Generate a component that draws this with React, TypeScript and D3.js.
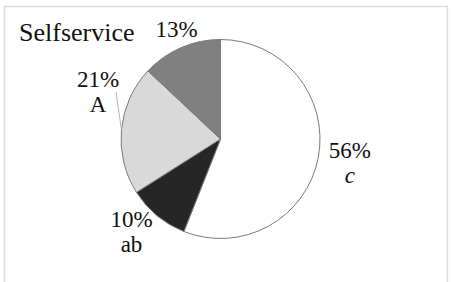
import React, { useEffect, useRef } from 'react'
import * as d3 from 'd3'

// data, clockwise from 12 o'clock
const shares = [56, 10, 21, 13]
const letters = ['c', 'ab', 'A', '']
const fills = ['#ffffff', '#262626', '#d9d9d9', '#808080']
const italicLetter = [true, false, false, false]
const title = 'Selfservice'

// label nudges relative to the outer label arc (layout only)
const labelNudge = [
	{ dx: 6, dy: -4.5, leader: false },
	{ dx: -9, dy: -9, leader: false },
	{ dx: 2.5, dy: -40, leader: true },
	{ dx: 6, dy: 13, leader: false },
]

const App = () => {
	const chartRef = useRef<SVGSVGElement | null>(null)

	useEffect(() => {
		if (!chartRef.current) return
		const svg = d3.select(chartRef.current)
		svg.selectAll('*').remove()

		const width = 451
		const height = 282
		const cx = 220.5
		const cy = 139
		const radius = 99.5
		const font = "Tinos, 'Liberation Serif', 'Times New Roman', serif"

		svg.attr('width', width).attr('height', height)

		// light frame around the chart area
		svg
			.append('rect')
			.attr('x', 4.5)
			.attr('y', 6.5)
			.attr('width', 443)
			.attr('height', 290)
			.attr('fill', 'white')
			.attr('stroke', '#dcdcdc')
			.attr('stroke-width', 1.5)

		svg
			.append('text')
			.attr('x', 19)
			.attr('y', 41)
			.attr('fill', '#111')
			.attr('font-size', 26)
			.text(title)

		const arcs = d3
			.pie<number>()
			.sort(null)
			.value((d) => d)(shares)

		const arc = d3.arc<d3.PieArcDatum<number>>().innerRadius(0).outerRadius(radius)
		const labelArc = d3
			.arc<d3.PieArcDatum<number>>()
			.innerRadius(radius + 26)
			.outerRadius(radius + 26)
		const edgeArc = d3.arc<d3.PieArcDatum<number>>().innerRadius(radius).outerRadius(radius)

		const g = svg.append('g').attr('transform', `translate(${cx}, ${cy})`)

		g.selectAll('path.slice')
			.data(arcs)
			.enter()
			.append('path')
			.attr('class', 'slice')
			.attr('d', arc)
			.attr('fill', (d, i) => fills[i])
			.attr('stroke', '#7a7a7a')
			.attr('stroke-width', 1)
			.attr('stroke-linejoin', 'round')

		arcs.forEach((d, i) => {
			const [lx, ly] = labelArc.centroid(d)
			const x = lx + labelNudge[i].dx
			const y = ly + labelNudge[i].dy

			if (labelNudge[i].leader) {
				const [ex, ey] = edgeArc.centroid(d)
				g.append('line')
					.attr('x1', x + 18)
					.attr('y1', y + 5)
					.attr('x2', ex)
					.attr('y2', ey)
					.attr('stroke', '#b5b5b5')
					.attr('stroke-width', 1)
			}

			g.append('text')
				.attr('x', x)
				.attr('y', y)
				.attr('text-anchor', 'middle')
				.attr('font-size', 23)
				.attr('fill', '#111')
				.text(`${shares[i]}%`)

			if (letters[i]) {
				g.append('text')
					.attr('x', x)
					.attr('y', y + 25)
					.attr('text-anchor', 'middle')
					.attr('font-size', 23)
					.attr('font-style', italicLetter[i] ? 'italic' : 'normal')
					.attr('fill', '#111')
					.text(letters[i])
			}
		})

		// force the serif face on every label
		svg.selectAll<SVGTextElement, unknown>('text').each(function () {
			this.setAttribute('font-family', font)
			this.style.setProperty('font-family', font, 'important')
		})
	}, [])

	return <svg ref={chartRef} style={{ position: 'absolute', left: 0, top: 0 }} />
}

export default App
